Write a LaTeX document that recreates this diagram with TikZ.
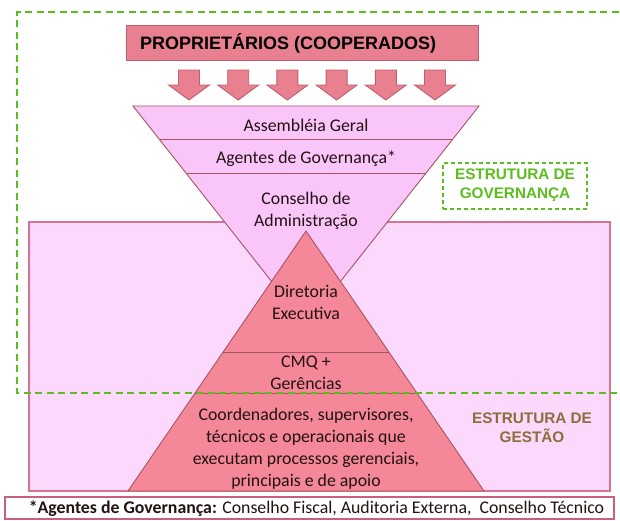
\documentclass[tikz,border=0pt]{standalone}
\usepackage{fontspec}
\setmainfont{Carlito}
\newfontfamily\headfont{Liberation Sans}
\definecolor{propfill}{RGB}{232,128,143}
\definecolor{propdraw}{RGB}{190,95,110}
\definecolor{funfill}{RGB}{250,198,250}
\definecolor{darkline}{RGB}{165,85,95}
\definecolor{bgfill}{RGB}{252,216,252}
\definecolor{bgdraw}{RGB}{215,115,145}
\definecolor{pyrfill}{RGB}{245,136,152}
\definecolor{govgreen}{RGB}{92,190,30}
\definecolor{gestcol}{RGB}{140,110,60}
\definecolor{notedraw}{RGB}{200,95,125}
\definecolor{txt}{RGB}{35,18,18}
\begin{document}
\begin{tikzpicture}[x=1pt,y=-1pt,
  lbl/.style={font=\fontsize{17.8}{22}\selectfont, align=center, text=txt, inner sep=0pt},
  headlbl/.style={font=\headfont\bfseries\fontsize{15.3}{19}\selectfont, align=center, inner sep=0pt},
  downarrow/.style={fill=propfill, draw=propdraw, line width=0.9pt, line join=miter},
  layerline/.style={draw=darkline, line width=0.9pt}]
\useasboundingbox (0,0) rectangle (620,520);
\fill[white] (0,0) rectangle (620,520);

% background rectangle (gestao)
\draw[fill=bgfill, draw=bgdraw, line width=1.2pt] (29,222) rectangle (610,491);

% proprietarios box
\node[draw=propdraw, fill=propfill, line width=1pt, minimum width=352pt, minimum height=35pt, inner sep=0pt] (prop) at (302.8,42.5) {};
\node[anchor=west, font=\headfont\bfseries\fontsize{18}{22}\selectfont, text=black, inner sep=0pt] (proptxt) at (140,43) {PROPRIETÁRIOS (COOPERADOS)};

% arrows
\foreach \i in {0,...,5}{
  \pgfmathsetmacro\cx{189+49.2*\i}
  \draw[downarrow] ({\cx-10.5},70) -- ({\cx+10.5},70) -- ({\cx+10.5},85) -- ({\cx+20.5},85) -- (\cx,100) -- ({\cx-20.5},85) -- ({\cx-10.5},85) -- cycle;
}

% funnel
\draw[fill=funfill, draw=darkline, line width=0.9pt, line join=miter] (133,106) -- (479,106) -- (306,325) -- cycle;
\draw[layerline] (160,139) -- (452,139);
\draw[layerline] (186.5,173) -- (425.5,173);

% pyramid
\draw[fill=pyrfill, draw=darkline, line width=0.9pt, line join=miter] (306,231) -- (484,491) -- (128,491) -- cycle;
\draw[layerline] (223,352) -- (389,352);
\draw[layerline] (195,393) -- (417,393);

% texts
\node[lbl] (ag) at (306,125) {Assembléia Geral};
\node[lbl] (agov) at (306,158.5) {Agentes de Governança*};
\node[lbl] (cons) at (306,211) {Conselho de\\Administração};
\node[lbl] (dir) at (306,302.5) {Diretoria\\Executiva};
\node[lbl] (cmq) at (306,372.5) {CMQ +\\Gerências};
\node[lbl] (coord) at (306,449) {Coordenadores, supervisores,\\técnicos e operacionais que\\executam processos gerenciais,\\principais e de apoio};

% estrutura de governanca box
\node[draw=govgreen, dash pattern=on 4pt off 3pt, line width=1.2pt, minimum width=144pt, minimum height=46pt, inner sep=0pt] (govbox) at (515,186) {};
\node[headlbl, text=govgreen] (govtxt) at (515,185.5) {ESTRUTURA DE\\GOVERNANÇA};

% estrutura de gestao
\node[headlbl, text=gestcol] (gesttxt) at (532,427.5) {ESTRUTURA DE\\GESTÃO};

% big green dashed frame
\draw[govgreen, line width=1.8pt, dash pattern=on 7pt off 4.5pt] (630,12) -- (17,12) -- (17,393) -- (630,393);

% footnote
\draw[notedraw, line width=1.2pt] (5,497) rectangle (614,519);
\node[font=\fontsize{17.8}{20}\selectfont, text=txt, inner sep=0pt] (note) at (316.5,508.5) {{\bfseries *Agentes de Governança:} Conselho Fiscal, Auditoria Externa,\ \ Conselho Técnico};
\end{tikzpicture}
\end{document}
